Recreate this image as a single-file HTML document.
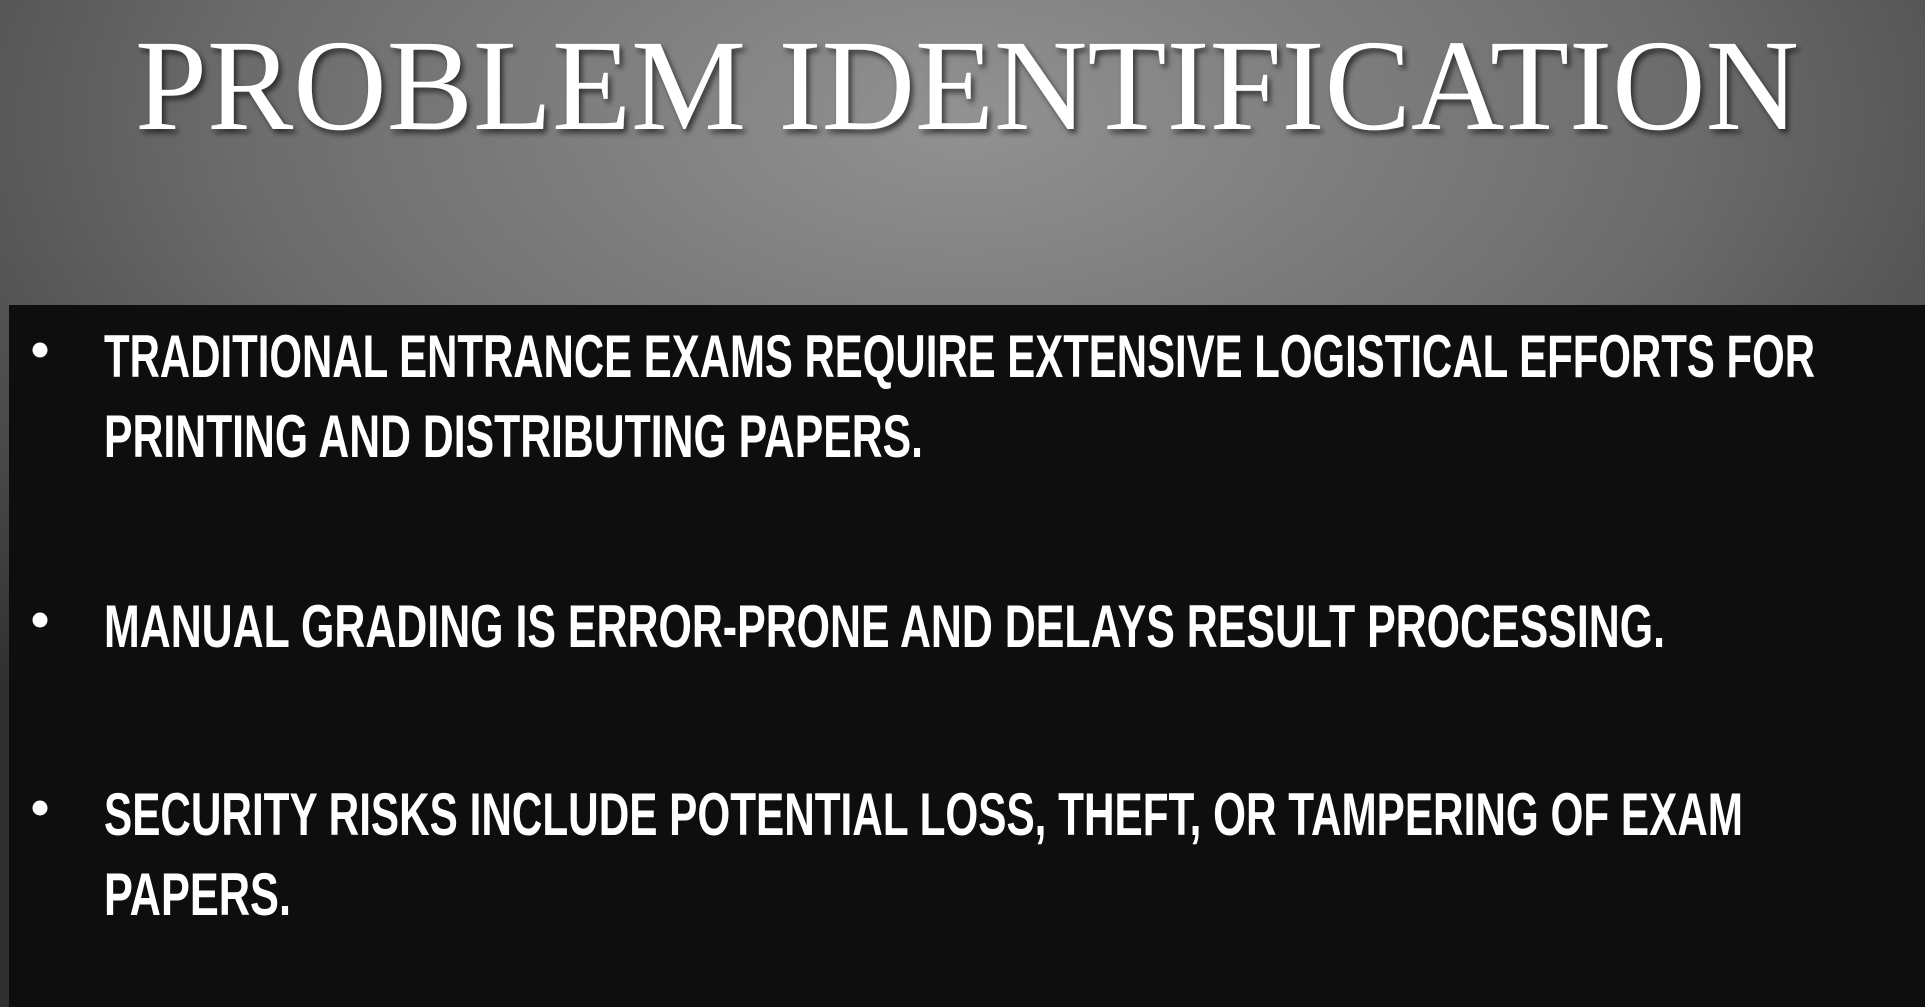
<!DOCTYPE html>
<html><head><meta charset="utf-8">
<style>
html,body{margin:0;padding:0;width:1925px;height:1007px;overflow:hidden;background:#444;}
svg{display:block}
</style></head>
<body>
<svg width="1925" height="1007" viewBox="0 0 1925 1007">
<defs>
<radialGradient id="bg" cx="0.5" cy="0.12" r="0.75" fx="0.5" fy="0.12">
<stop offset="0" stop-color="#929292"/>
<stop offset="0.5" stop-color="#6c6c6c"/>
<stop offset="1" stop-color="#303030"/>
</radialGradient>
<filter id="sh" x="-5%" y="-20%" width="110%" height="140%">
<feDropShadow dx="3" dy="4" stdDeviation="3" flood-color="#000" flood-opacity="0.6"/>
</filter>
</defs>
<rect x="0" y="0" width="1925" height="1007" fill="url(#bg)"/>
<rect x="9" y="305" width="1916" height="702" fill="#0e0e0e"/>
<text x="135" y="129" textLength="1664" lengthAdjust="spacingAndGlyphs" font-family="'Liberation Serif',serif" font-size="130" fill="#fff" filter="url(#sh)">PROBLEM IDENTIFICATION</text>
<g font-family="'Liberation Sans',sans-serif" font-weight="bold" font-size="60" fill="#fff">
<circle cx="40" cy="350" r="7.5" fill="#fff"/>
<text x="104" y="377" textLength="1711" lengthAdjust="spacingAndGlyphs">TRADITIONAL ENTRANCE EXAMS REQUIRE EXTENSIVE LOGISTICAL EFFORTS FOR</text>
<text x="104" y="457" textLength="819" lengthAdjust="spacingAndGlyphs">PRINTING AND DISTRIBUTING PAPERS.</text>
<circle cx="40" cy="620" r="7.5" fill="#fff"/>
<text x="104" y="647" textLength="1561" lengthAdjust="spacingAndGlyphs">MANUAL GRADING IS ERROR-PRONE AND DELAYS RESULT PROCESSING.</text>
<circle cx="40" cy="808" r="7.5" fill="#fff"/>
<text x="104" y="835" textLength="1639" lengthAdjust="spacingAndGlyphs">SECURITY RISKS INCLUDE POTENTIAL LOSS, THEFT, OR TAMPERING OF EXAM</text>
<text x="104" y="915" textLength="187" lengthAdjust="spacingAndGlyphs">PAPERS.</text>
</g>
</svg>
</body></html>
